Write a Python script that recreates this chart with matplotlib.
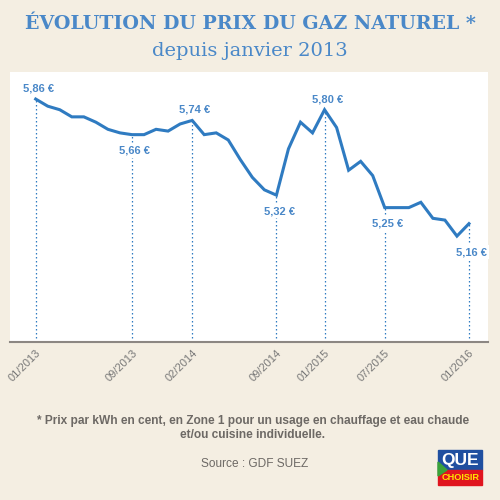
import matplotlib
matplotlib.use('Agg')
import matplotlib.pyplot as plt
from matplotlib.patches import Rectangle, Polygon

# DATA - prix mensuel du gaz (cent / kWh), 01/2013 -> 01/2016
prix = [5.86, 5.82, 5.80, 5.76, 5.76, 5.73, 5.69, 5.67, 5.66, 5.66,
        5.69, 5.68, 5.72, 5.74, 5.66, 5.67, 5.63, 5.52, 5.42, 5.35,
        5.32, 5.58, 5.73, 5.67, 5.80, 5.70, 5.46, 5.51, 5.43, 5.25,
        5.25, 5.25, 5.28, 5.19, 5.18, 5.09, 5.16]
mois = list(range(len(prix)))

tick_idx = [0, 8, 13, 20, 24, 29, 36]
tick_labels = ['01/2013', '09/2013', '02/2014', '09/2014', '01/2015', '07/2015', '01/2016']

# points annotes : (indice, texte, au-dessus ?)
annot_idx = [0, 8, 13, 20, 24, 29, 36]
annot_txt = ['5,86 €', '5,66 €', '5,74 €', '5,32 €', '5,80 €', '5,25 €', '5,16 €']
annot_up = [True, False, True, False, True, False, False]

# COULEURS

bg = '#f4eee2'
bleu = '#2f7bc1'
bleu_titre = '#4a88c8'
gris = '#6d6965'


def fx(px):
    return px / 500


def fy(py):
    return 1 - py / 500


fig = plt.figure(figsize=(5, 5), dpi=100, facecolor=bg)

ax = fig.add_axes([fx(10), fy(342), 478 / 500, 270 / 500])
ax.set_facecolor('white')

ax.plot(mois, prix, color=bleu, linewidth=2.2, solid_joinstyle='miter', zorder=3)

y_bas = 4.495
ax.set_xlim(-2.135, 37.58)
ax.set_ylim(y_bas, 6.012)

for i, txt, up in zip(annot_idx, annot_txt, annot_up):
    ax.plot([i, i], [y_bas, prix[i]], color=bleu, linestyle=(0, (1.2, 2)), linewidth=0.9, zorder=2)
    if up:
        ax.annotate(txt, (i, prix[i]), xytext=(2, 4), textcoords='offset points',
                    ha='center', va='bottom', color=bleu_titre, fontsize=8,
                    fontweight='semibold', family='Liberation Sans')
    else:
        y0 = min(prix[i], prix[i - 1]) if i == 36 else prix[i]
        ax.annotate(txt, (i, y0), xytext=(2, -8), textcoords='offset points',
                    ha='center', va='top', color=bleu_titre, fontsize=8,
                    fontweight='semibold', family='Liberation Sans',
                    bbox=dict(facecolor='white', edgecolor='none', pad=1.5), zorder=4)

ax.set_xticks(tick_idx)
ax.set_xticklabels(tick_labels, rotation=45, ha='right', va='top',
                   rotation_mode='anchor', color='#777777', fontsize=8,
                   family='Liberation Sans')
ax.tick_params(axis='x', length=0, pad=4)
ax.set_yticks([])
for s in ['top', 'left', 'right']:
    ax.spines[s].set_visible(False)
ax.spines['bottom'].set_color('#8c8783')
ax.spines['bottom'].set_linewidth(1.5)

# TITRES

fig.text(0.5, fy(24), 'ÉVOLUTION DU PRIX DU GAZ NATUREL *', ha='center', va='center',
         color=bleu_titre, fontsize=13.7, fontweight='bold', family='DejaVu Serif')
fig.text(0.5, fy(51), 'depuis janvier 2013', ha='center', va='center',
         color=bleu_titre, fontsize=14, family='DejaVu Serif')

# NOTES

fig.text(fx(253), fy(421), '* Prix par kWh en cent, en Zone 1 pour un usage en chauffage et eau chaude',
         ha='center', va='center', color=gris, fontsize=8.6, fontweight='bold',
         family='Liberation Sans')
fig.text(fx(253), fy(435), 'et/ou cuisine individuelle.', ha='center', va='center',
         color=gris, fontsize=8.6, fontweight='bold', family='Liberation Sans')
fig.text(fx(255), fy(464), 'Source : GDF SUEZ', ha='center', va='center',
         color=gris, fontsize=8.6, family='Liberation Sans')

# LOGO

fig.patches.append(Rectangle((fx(438), fy(470)), 44 / 500, 20 / 500,
                             transform=fig.transFigure, color='#1f4fa0'))
fig.patches.append(Rectangle((fx(438), fy(485)), 44 / 500, 15 / 500,
                             transform=fig.transFigure, color='#e0141e'))
fig.patches.append(Polygon([(fx(438), fy(462)), (fx(447), fy(470)), (fx(438), fy(476))],
                           closed=True, transform=fig.transFigure, color='#3aa23a'))
fig.text(fx(460.5), fy(460), 'QUE', ha='center', va='center', color='white',
         fontsize=12.5, fontweight='bold', family='Liberation Sans')
fig.text(fx(460.5), fy(477.5), 'CHOISIR', ha='center', va='center', color='#ffe600',
         fontsize=6.6, fontweight='bold', family='Liberation Sans')

fig.savefig('out.png', dpi=100, facecolor=bg)
